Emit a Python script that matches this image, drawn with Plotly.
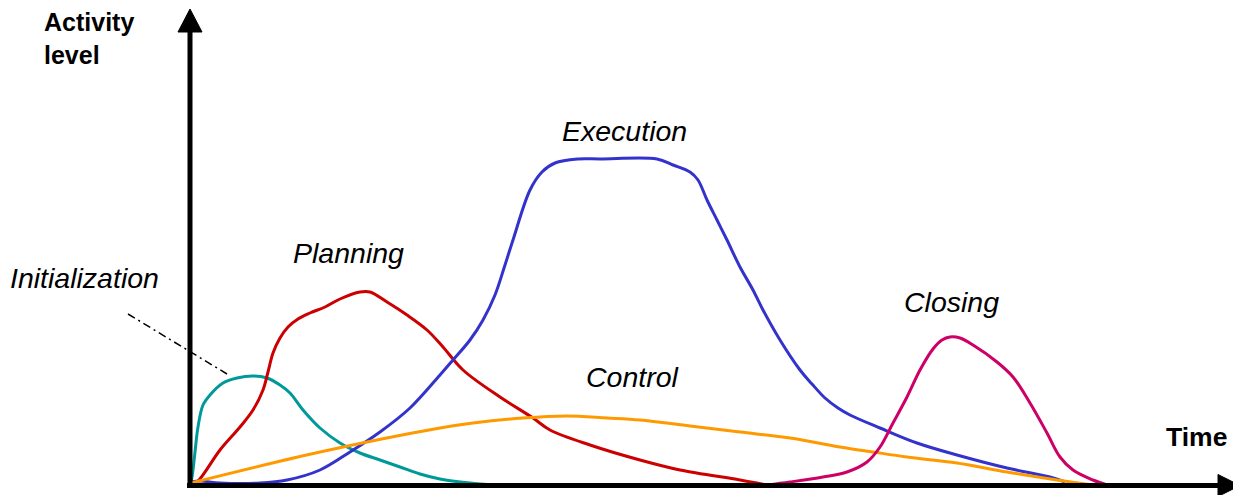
import plotly.graph_objects as go

# time (x) and activity level (y) readings for each phase
init_t = [1, 3, 5, 8, 13, 20, 33, 47, 63, 77, 90, 100, 113, 130, 150, 170, 190, 210, 230, 250, 280, 305]
init_a = [2, 15, 33, 58, 80, 90, 102, 107, 109, 107, 100, 92, 75, 57, 42, 32, 25, 18, 11, 6, 2, 0]

plan_t = [1, 7, 30, 50, 63, 73, 78, 83, 90, 98, 108, 120, 135, 150, 170, 180, 197, 217, 237, 253, 273, 310, 343, 360, 400, 450, 490, 550, 577]
plan_a = [1, 3, 35, 58, 75, 95, 113, 132, 147, 158, 166, 172, 178, 186, 193, 193, 183, 170, 155, 138, 115, 88, 67, 55, 40, 25, 15, 5, 0]

exec_t = [1, 10, 30, 70, 97, 130, 160, 190, 220, 250, 263, 280, 293, 305, 315, 323, 340, 352, 365, 388, 410, 467, 483,
          500, 508, 517, 527, 537, 550, 563, 573, 590, 610, 622, 635, 648, 660, 690, 727, 767, 817, 860, 875]
exec_a = [3, 4, 2, 2, 5, 15, 33, 53, 77, 110, 125, 145, 165, 190, 220, 245, 295, 313, 322, 326, 326, 326, 320,
          313, 305, 285, 265, 245, 218, 195, 175, 145, 115, 101, 87, 77, 70, 57, 42, 30, 17, 8, 3]

ctrl_t = [1, 130, 250, 283, 333, 377, 417, 450, 500, 550, 600, 650, 683, 717, 767, 817, 867, 903]
ctrl_a = [2, 33, 57, 62, 67, 69, 67, 65, 59, 53, 47, 38, 33, 28, 22, 13, 5, 0]

close_t = [577, 600, 633, 657, 677, 690, 703, 717, 730, 743, 752, 760, 770, 783, 807, 823, 840, 857, 870, 883, 903, 917]
close_a = [0, 3, 8, 13, 23, 38, 62, 88, 115, 136, 145, 148, 147, 140, 123, 108, 82, 52, 28, 15, 5, 0]

series = [
    ("Initialization", init_t, init_a, "#009999"),
    ("Planning", plan_t, plan_a, "#CC0000"),
    ("Execution", exec_t, exec_a, "#3333CC"),
    ("Control", ctrl_t, ctrl_a, "#FF9900"),
    ("Closing", close_t, close_a, "#CC0066"),
]

# label texts and their anchor positions (time, level)
labels = ["Execution", "Planning", "Initialization", "Closing", "Control"]
label_t = [434, 158, -106, 761, 442]
label_a = [354, 232, 207, 183, 108]

fig = go.Figure()
for name, t, a, col in series:
    fig.add_trace(go.Scatter(x=t, y=a, mode="lines", name=name,
                             line=dict(color=col, width=3, shape="spline", smoothing=1.0),
                             showlegend=False, hoverinfo="skip"))

font_it = dict(family="Liberation Sans, Arial, sans-serif", size=28.5, color="black")
for txt, lx, ly in zip(labels, label_t, label_a):
    fig.add_annotation(x=lx, y=ly, text="<i>" + txt + "</i>", showarrow=False,
                       xanchor="center", yanchor="middle", font=font_it)

font_b = dict(family="Liberation Sans, Arial, sans-serif", size=25, color="black")
fig.add_annotation(x=-148, y=447, text="<b>Activity<br>level</b>", showarrow=False,
                   xanchor="left", yanchor="middle", align="left", font=font_b)
fig.add_annotation(x=1006, y=48, text="<b>Time</b>", showarrow=False,
                   xanchor="center", yanchor="middle", font=dict(font_b, size=26.5))

# axes with arrows
fig.add_shape(type="line", x0=0, y0=-3, x1=0, y1=455, line=dict(color="black", width=5))
fig.add_shape(type="line", x0=-3, y0=-0.5, x1=1030, y1=-0.5, line=dict(color="black", width=5))
fig.add_shape(type="path", path="M -12 453 L 12 453 L 0 476 Z", fillcolor="black", line=dict(color="black", width=1))
fig.add_shape(type="path", path="M 1028 -11.5 L 1028 10.5 L 1050 -0.5 Z", fillcolor="black", line=dict(color="black", width=1))

# leader line for Initialization
fig.add_shape(type="line", x0=-62, y0=171, x1=37, y1=111,
              line=dict(color="black", width=1.5, dash="8px,4px,2px,4px"))

# page body has an 8px default margin, so the figure is sized/offset to compensate
fig.update_xaxes(range=[-182, 1051], visible=False, showgrid=False, zeroline=False)
fig.update_yaxes(range=[-10, 477], visible=False, showgrid=False, zeroline=False)
fig.update_layout(width=1233, height=487, margin=dict(l=0, r=0, t=0, b=0),
                  plot_bgcolor="white", paper_bgcolor="white")

fig.write_html("out.html")
